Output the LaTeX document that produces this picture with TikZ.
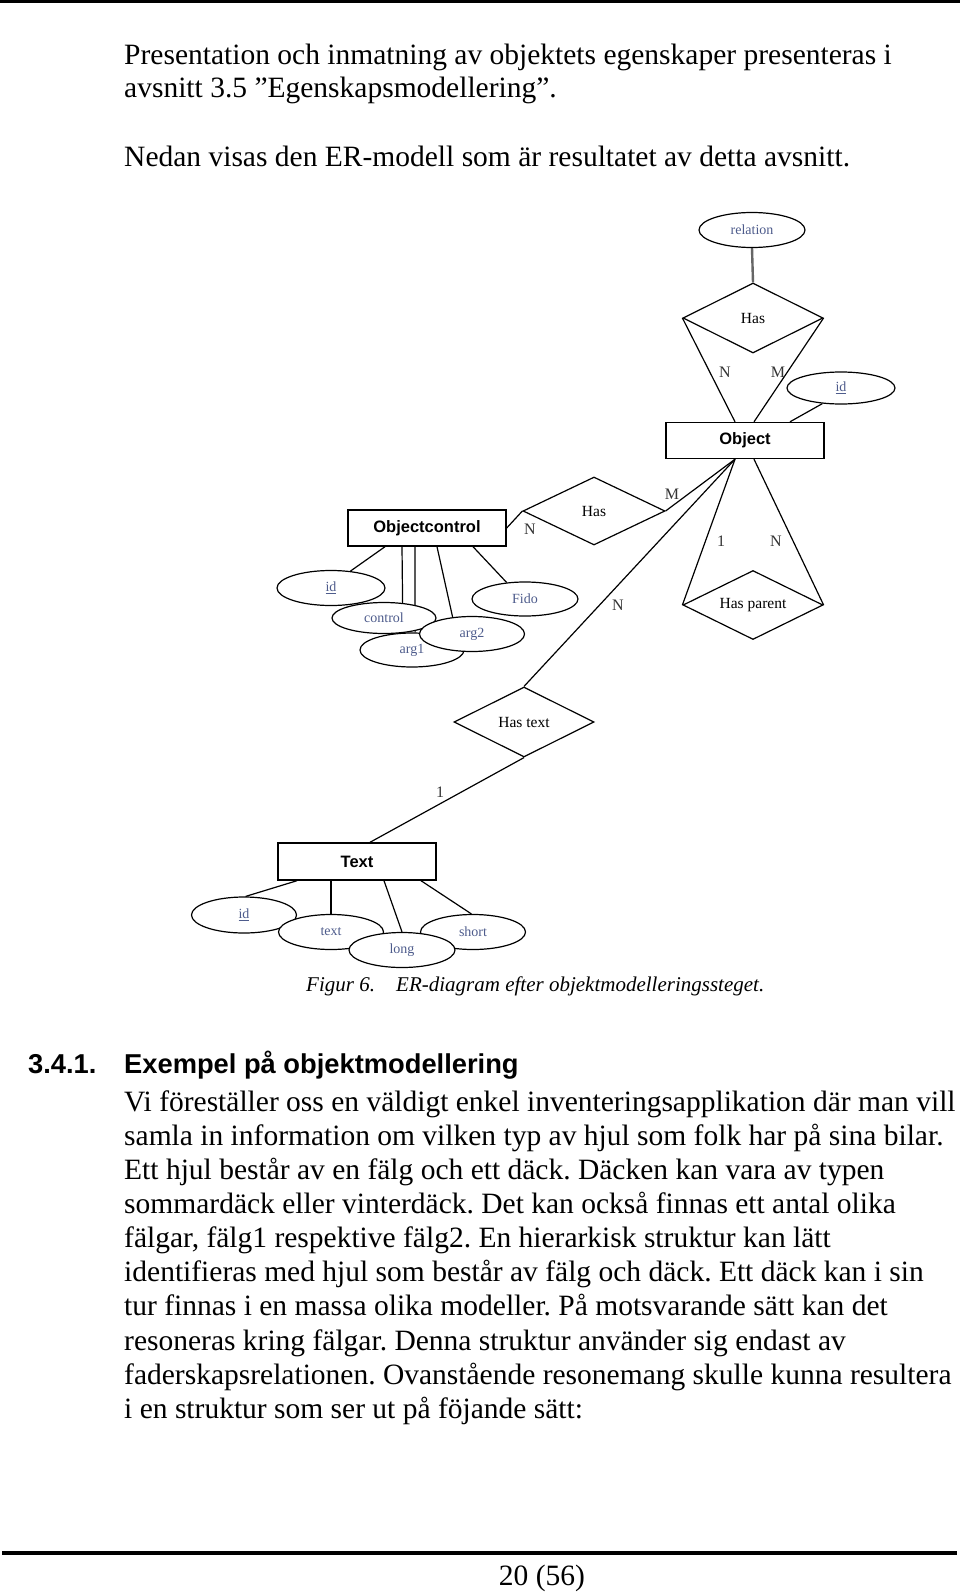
\documentclass[tikz,border=0pt]{standalone}
\usepackage{fontspec}
\setmainfont{Liberation Serif}
\setsansfont{Liberation Sans}
\usetikzlibrary{shapes.geometric,backgrounds}
\definecolor{attrblue}{RGB}{78,92,140}
\frenchspacing
\tikzset{
  entity/.style={draw, line width=1.4pt, minimum width=158, minimum height=36, inner sep=0, fill=white, font=\fontsize{16.5}{18}\sffamily\bfseries},
  relship/.style={draw, diamond, aspect=2, line width=1.2pt, minimum width=140, minimum height=70, inner sep=0, fill=white, font=\fontsize{15.5}{17}\selectfont},
  attr/.style={draw, ellipse, line width=1.2pt, minimum width=106, minimum height=35, inner sep=0, fill=white, text=attrblue, font=\fontsize{14}{16}\selectfont},
  card/.style={inner sep=0, text=black!80, font=\fontsize{16}{18}\selectfont},
  conn/.style={line width=1.2pt},
  body/.style={anchor=base west, inner sep=0, font=\fontsize{29.5}{34}\selectfont},
  head/.style={anchor=base west, inner sep=0, font=\fontsize{27.3}{32}\sffamily\bfseries},
  capt/.style={anchor=base west, inner sep=0, font=\fontsize{21}{24}\itshape},
}
\begin{document}
\begin{tikzpicture}[x=1pt,y=-1pt]
    \useasboundingbox (0,0) rectangle (960,1592);
    \draw[line width=3pt] (0,1.5) -- (960,1.5);
    \draw[line width=3.5pt] (2,1553) -- (957,1553);
    % text above the figure
    \node[body] (p1) at (124,65) {Presentation och inmatning av objektets egenskaper presenteras i};
    \node[body] (p2) at (124,98) {avsnitt 3.5 ”Egenskapsmodellering”.};
    \node[body] (p3) at (124,166) {Nedan visas den ER-modell som är resultatet av detta avsnitt.};
    % ER diagram
    \node[attr] (relation) at (752,230) {relation};
    \node[relship] (hastop) at (753,318) {Has};
    \node[attr, minimum width=108, minimum height=32] (objid) at (841,388) {\underline{id}};
    \node[entity] (objent) at (745,440.5) {Object};
    \node[relship, minimum width=142, minimum height=68] (hasmid) at (594,511) {Has};
    \node[entity] (ctrlent) at (427,528) {Objectcontrol};
    \node[relship, minimum height=69] (haspar) at (753,605) {Has parent};
    \node[relship] (hastext) at (524,722) {Has text};
    \node[entity, minimum height=37] (textent) at (357,861.5) {Text};
    \node[attr, minimum width=108] (ocid) at (331,588) {\underline{id}};
    \node[attr, minimum width=104, minimum height=34] (ocarg1) at (412,650) {arg1};
    \node[attr, minimum width=104, minimum height=31] (occtrl) at (384,618) {control};
    \node[attr, minimum width=105] (ocarg2) at (472,634) {arg2};
    \node[attr, minimum height=34] (ocfido) at (525,599) {Fido};
    \node[attr, minimum width=105, minimum height=36] (txid) at (244,915) {\underline{id}};
    \node[attr, minimum width=105] (txtext) at (331,932) {text};
    \node[attr, minimum width=105] (txshort) at (473,932) {short};
    \node[attr] (txlong) at (402,950) {long};
    \begin{scope}[on background layer]
        \fill[white] (0,0) rectangle (960,1592);
        \draw[line width=2.4pt, black!60] (relation.south) -- (hastop.north);
        \draw[conn] (hastop.west) -- ([xshift=-10]objent.north);
        \draw[conn] (hastop.east) -- ([xshift=9]objent.north);
        \draw[conn] (objid.220) -- ([xshift=45]objent.north);
        \draw[conn] ([xshift=-10]objent.south) -- (hasmid.east);
        \draw[conn] ([xshift=-10]objent.south) -- (hastext.north);
        \draw[conn] ([xshift=-10]objent.south) -- (haspar.west);
        \draw[conn] ([xshift=9]objent.south) -- (haspar.east);
        \draw[conn] (ctrlent.east) -- (hasmid.west);
        \draw[conn] (hastext.south) -- ([xshift=13]textent.north);
        \draw[conn] ([xshift=-42]ctrlent.south) -- (ocid.41);
        \draw[conn] ([xshift=-25]ctrlent.south) -- (occtrl.39);
        \draw[conn] ([xshift=-12]ctrlent.south) -- (ocarg1.80);
        \draw[conn] ([xshift=10]ctrlent.south) -- (ocarg2.139);
        \draw[conn] ([xshift=46]ctrlent.south) -- (ocfido.138);
        \draw[conn] ([xshift=-60]textent.south) -- (txid.85);
        \draw[conn] ([xshift=-26]textent.south) -- (txtext.north);
        \draw[conn] ([xshift=27]textent.south) -- (txlong.north);
        \draw[conn] ([xshift=64]textent.south) -- (txshort.95);
    \end{scope}
    % cardinalities
    \node[card] (c1) at (725,372) {N};
    \node[card] (c2) at (778,372) {M};
    \node[card] (c3) at (530,529) {N};
    \node[card] (c4) at (672,494) {M};
    \node[card] (c5) at (618,605) {N};
    \node[card] (c6) at (721,541) {1};
    \node[card] (c7) at (776,541) {N};
    \node[card] (c8) at (440,792) {1};
    % caption
    \node[capt] (capnum) at (306,991) {Figur 6.};
    \node[capt] (captext) at (396,991) {ER-diagram efter objektmodelleringssteget.};
    % section
    \node[head] (secnum) at (28,1073) {3.4.1.};
    \node[head] (sectitle) at (124,1073) {Exempel på objektmodellering};
    \node[body] (b1) at (124,1111) {Vi föreställer oss en väldigt enkel inventeringsapplikation där man vill};
    \node[body] (b2) at (124,1145.2) {samla in information om vilken typ av hjul som folk har på sina bilar.};
    \node[body] (b3) at (124,1179.3) {Ett hjul består av en fälg och ett däck. Däcken kan vara av typen};
    \node[body] (b4) at (124,1213.5) {sommardäck eller vinterdäck. Det kan också finnas ett antal olika};
    \node[body] (b5) at (124,1247.6) {fälgar, fälg1 respektive fälg2. En hierarkisk struktur kan lätt};
    \node[body] (b6) at (124,1281.8) {identifieras med hjul som består av fälg och däck. Ett däck kan i sin};
    \node[body] (b7) at (124,1315.9) {tur finnas i en massa olika modeller. På motsvarande sätt kan det};
    \node[body] (b8) at (124,1350.1) {resoneras kring fälgar. Denna struktur använder sig endast av};
    \node[body] (b9) at (124,1384.2) {faderskapsrelationen. Ovanstående resonemang skulle kunna resultera};
    \node[body] (b10) at (124,1418.4) {i en struktur som ser ut på föjande sätt:};
    \node[anchor=base, inner sep=0, font=\fontsize{29.5}{34}\selectfont] (pagenum) at (542,1585) {20 (56)};
\end{tikzpicture}
\end{document}
